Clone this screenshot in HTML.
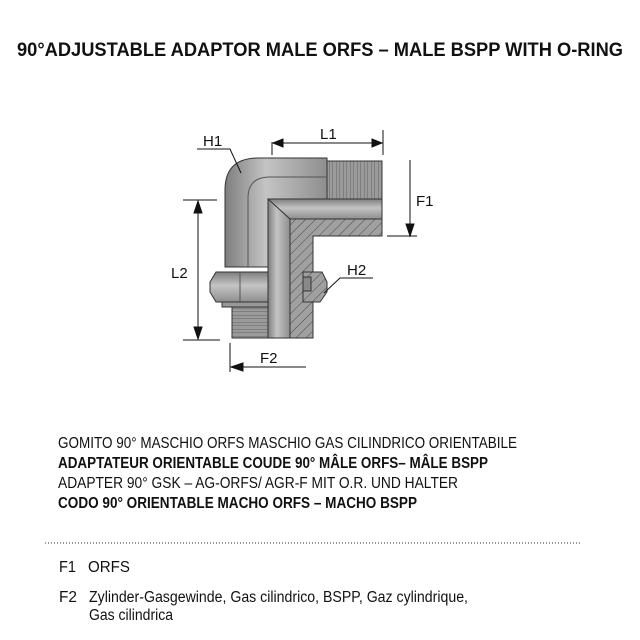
<!DOCTYPE html>
<html><head><meta charset="utf-8"><style>html,body{margin:0;padding:0;background:#fff}svg{display:block}</style></head><body>
<svg width="640" height="640" viewBox="0 0 640 640" xmlns="http://www.w3.org/2000/svg" font-family="Liberation Sans, sans-serif">
<defs>
<linearGradient id="gv" x1="0" x2="1" y1="0" y2="0"><stop offset="0" stop-color="#7e7e7e"/><stop offset="0.4" stop-color="#c4c4c4"/><stop offset="1" stop-color="#8e8e8e"/></linearGradient>
<linearGradient id="gh" x1="0" x2="0" y1="0" y2="1"><stop offset="0" stop-color="#7e7e7e"/><stop offset="0.45" stop-color="#c4c4c4"/><stop offset="1" stop-color="#8e8e8e"/></linearGradient>
<pattern id="hat" width="7" height="7" patternUnits="userSpaceOnUse" patternTransform="rotate(45)"><rect width="7" height="7" fill="#a0a0a0"/><line x1="0" y1="0" x2="0" y2="7" stroke="#333" stroke-width="0.8"/></pattern>
<pattern id="thr" width="3.5" height="10" patternUnits="userSpaceOnUse"><rect width="3.5" height="10" fill="#9a9a9a"/><line x1="0" y1="0" x2="0" y2="10" stroke="#5a5a5a" stroke-width="0.8"/></pattern>
<pattern id="thr2" width="10" height="3.5" patternUnits="userSpaceOnUse"><rect width="10" height="3.5" fill="#9a9a9a"/><line x1="0" y1="0" x2="10" y2="0" stroke="#5a5a5a" stroke-width="0.8"/></pattern>
</defs>
<text x="320" y="56" text-anchor="middle" font-size="19" font-weight="bold" fill="#111" textLength="606" lengthAdjust="spacingAndGlyphs">90°ADJUSTABLE ADAPTOR MALE ORFS – MALE BSPP WITH O-RING</text>

<g stroke="#333" stroke-width="1">
<rect x="327" y="161" width="55" height="38" fill="url(#thr)"/>
<path d="M225,267 L225,190 Q225,158 258,158 L327,158 L327,199 L268,199 L268,267 Z" fill="url(#gv)"/>
<path d="M248,267 L248,198 Q248,178 268,177 L327,177" fill="none" stroke="#555"/>
<rect x="268" y="199" width="114" height="20" fill="url(#gh)"/>
<path d="M290,219 L382,219 L382,236 L313,236 L313,338 L290,338 Z" fill="url(#hat)"/>
<path d="M268,199 L290,219 L290,338 L268,338 Z" fill="url(#gv)"/>
<path d="M210,282 L216,272 L268,272 L268,302 L216,302 L210,292 Z" fill="url(#gh)"/>
<line x1="240" y1="272" x2="240" y2="302" stroke="#555"/>
<path d="M303,272 L322,272 L327,282 L327,292 L320,302 L303,302 Z" fill="url(#hat)"/>
<rect x="303" y="277" width="8" height="14" fill="#888"/>
<rect x="222" y="302" width="46" height="5" fill="#999"/>
<rect x="232" y="307" width="36" height="31" fill="url(#thr2)"/>
</g>

<g stroke="#111" stroke-width="1" fill="#111">
<line x1="272" y1="142" x2="272" y2="155"/><line x1="383" y1="130" x2="383" y2="155"/>
<line x1="275" y1="143" x2="380" y2="143"/>
<path d="M273,143 l10,-4 v8 z"/><path d="M382,143 l-10,-4 v8 z"/>
<line x1="410" y1="160" x2="410" y2="234"/>
<line x1="387" y1="236" x2="417" y2="236"/>
<path d="M410,236 l-4,-12 h8 z"/>
<line x1="183" y1="200" x2="217" y2="200"/><line x1="183" y1="340" x2="220" y2="340"/>
<line x1="198" y1="203" x2="198" y2="337"/>
<path d="M198,201 l-4,12 h8 z"/><path d="M198,339 l-4,-12 h8 z"/>
<line x1="230" y1="343" x2="230" y2="372"/>
<line x1="232" y1="367" x2="306" y2="367"/>
<path d="M231,367 l12,-4 v8 z"/>
<polyline points="197,149 230,149 241,173" fill="none"/>
<polyline points="373,278 340,278 324,293" fill="none"/>
</g>
<g font-size="15" fill="#111">
<text x="203" y="146">H1</text>
<text x="320" y="139">L1</text>
<text x="416" y="206">F1</text>
<text x="171" y="278">L2</text>
<text x="347" y="275">H2</text>
<text x="260" y="363">F2</text>
</g>

<g font-size="15.5" fill="#111">
<text x="58" y="448" textLength="459" lengthAdjust="spacingAndGlyphs">GOMITO 90° MASCHIO ORFS MASCHIO GAS CILINDRICO ORIENTABILE</text>
<text x="58" y="468" font-weight="bold" textLength="430" lengthAdjust="spacingAndGlyphs">ADAPTATEUR ORIENTABLE COUDE 90° MÂLE ORFS– MÂLE BSPP</text>
<text x="58" y="488" textLength="400" lengthAdjust="spacingAndGlyphs">ADAPTER 90° GSK – AG-ORFS/ AGR-F MIT O.R. UND HALTER</text>
<text x="58" y="508" font-weight="bold" textLength="359" lengthAdjust="spacingAndGlyphs">CODO 90° ORIENTABLE MACHO ORFS – MACHO BSPP</text>
</g>
<line x1="45" y1="543" x2="580" y2="543" stroke="#333" stroke-width="1" stroke-dasharray="1,2"/>
<g font-size="15.5" fill="#111">
<text x="59" y="572" textLength="17" lengthAdjust="spacingAndGlyphs">F1</text><text x="88" y="572" textLength="42" lengthAdjust="spacingAndGlyphs">ORFS</text>
<text x="59" y="602" textLength="18" lengthAdjust="spacingAndGlyphs">F2</text><text x="89" y="602" textLength="379" lengthAdjust="spacingAndGlyphs">Zylinder-Gasgewinde, Gas cilindrico, BSPP, Gaz cylindrique,</text>
<text x="89" y="620" textLength="84" lengthAdjust="spacingAndGlyphs">Gas cilindrica</text>
</g>
</svg>
</body></html>
